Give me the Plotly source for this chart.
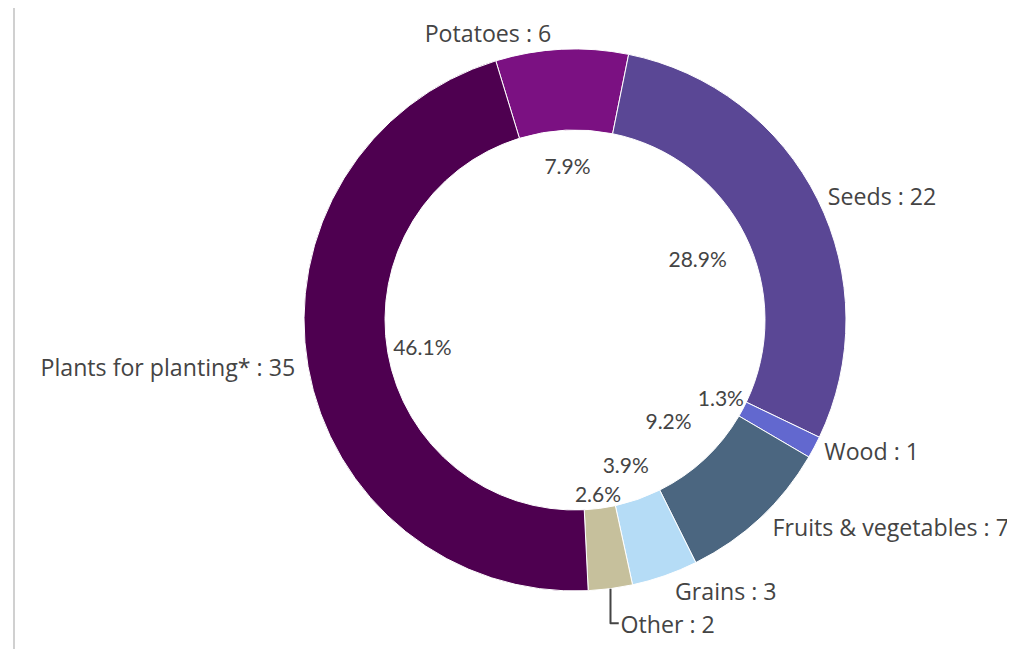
import plotly.graph_objects as go

labels = ["Potatoes", "Seeds", "Wood", "Fruits & vegetables", "Grains", "Other", "Plants for planting*"]
values = [6, 22, 1, 7, 3, 2, 35]
colors = ["#7b1182", "#5a4795", "#6268cf", "#4b6680", "#b5dcf6", "#c6c09c", "#4e0050"]

W, H = 1015, 649
cx, cy = 567, 312
R_out, R_in = 271, 190
ROT = -17

total = sum(values)
pct_text = [f"{v / total * 100:.1f}%" for v in values]
# percentage labels drawn on two transparent inner rings (closer / farther from centre)
near_ring = {"Seeds", "Wood", "Fruits & vegetables", "Grains"}


def dom(r):
    return dict(x=[(cx - r) / W, (cx + r) / W],
                y=[(H - cy - r) / H, (H - cy + r) / H])


fig = go.Figure()
fig.add_trace(go.Pie(
    labels=labels, values=values, sort=False, direction="clockwise", rotation=ROT,
    hole=R_in / R_out, domain=dom(R_out),
    marker=dict(colors=colors, line=dict(color="white", width=1)),
    textposition="outside", texttemplate="%{label} : %{value}",
    outsidetextfont=dict(family="Open Sans", size=24, color="#444444"),
    showlegend=False, hoverinfo="label+value+percent",
))

for r_o, r_i, keep in [(172, 102, True), (190, 120, False)]:
    txt = [t if ((lab in near_ring) == keep) else "" for lab, t in zip(labels, pct_text)]
    fig.add_trace(go.Pie(
        labels=labels, values=values, sort=False, direction="clockwise", rotation=ROT,
        hole=r_i / r_o, domain=dom(r_o),
        marker=dict(colors=["rgba(0,0,0,0)"] * len(values), line=dict(width=0)),
        text=txt, textinfo="text", textposition="inside", insidetextorientation="horizontal",
        insidetextfont=dict(family="Lato", size=21, color="#444444"),
        showlegend=False, hoverinfo="skip",
    ))

fig.update_layout(
    width=W, height=H, margin=dict(l=0, r=0, t=0, b=0),
    paper_bgcolor="white", plot_bgcolor="white",
    uniformtext=dict(minsize=21, mode="show"),
    shapes=[dict(type="line", xref="paper", yref="paper", x0=6 / W, x1=6 / W, y0=0, y1=1,
                 line=dict(color="#d0d0d0", width=2))],
)
fig.write_html("out.html")
